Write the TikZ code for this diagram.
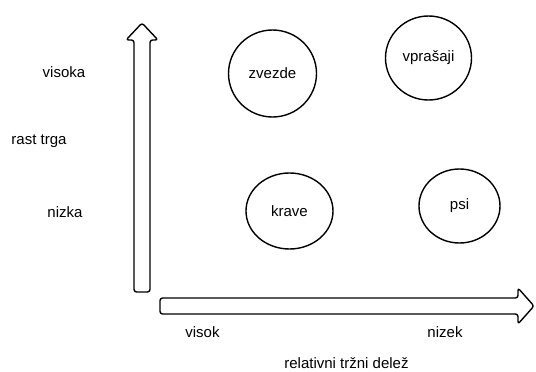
\documentclass[tikz,border=0pt]{standalone}
\usepackage{fontspec}
\setmainfont{Liberation Sans}
\usetikzlibrary{shapes.geometric}
\begin{document}
\begin{tikzpicture}[x=1pt,y=-1pt,
  lbl/.style={inner sep=0pt,font=\fontsize{15}{18}\selectfont},
  bubble/.style={ellipse,draw,line width=1.4pt,inner sep=0pt,font=\fontsize{15}{18}\selectfont},
  bigarrow/.style={draw,line width=1.4pt,rounded corners=2.5pt,line join=round}]
\useasboundingbox (0,0) rectangle (536,372);
% vertical arrow
\draw[bigarrow] (134,292) -- (134,40) -- (126,40) -- (142,23) -- (158,40) -- (150,40) -- (150,292) -- cycle;
% horizontal arrow
\draw[bigarrow] (160,298) -- (518,298) -- (518,288) -- (534,306) -- (518,324) -- (518,314) -- (160,314) -- cycle;
% bubbles
\node[bubble,minimum width=88pt,minimum height=87pt] (zv) at (272.5,73.5) {zvezde};
\node[bubble,minimum width=86pt,minimum height=84pt] (vp) at (428.5,58) {vprašaji};
\node[bubble,minimum width=87pt,minimum height=76pt] (kr) at (289.5,211) {krave};
\node[bubble,minimum width=81pt,minimum height=74pt] (ps) at (459.5,206) {psi};
% labels
\node[lbl] (l1) at (64,72) {visoka};
\node[lbl] (l2) at (39,141) {rast trga};
\node[lbl] (l3) at (65,212) {nizka};
\node[lbl] (l4) at (202.5,332) {visok};
\node[lbl] (l5) at (445,332) {nizek};
\node[lbl] (l6) at (346.5,363) {relativni tržni delež};
\end{tikzpicture}
\end{document}
